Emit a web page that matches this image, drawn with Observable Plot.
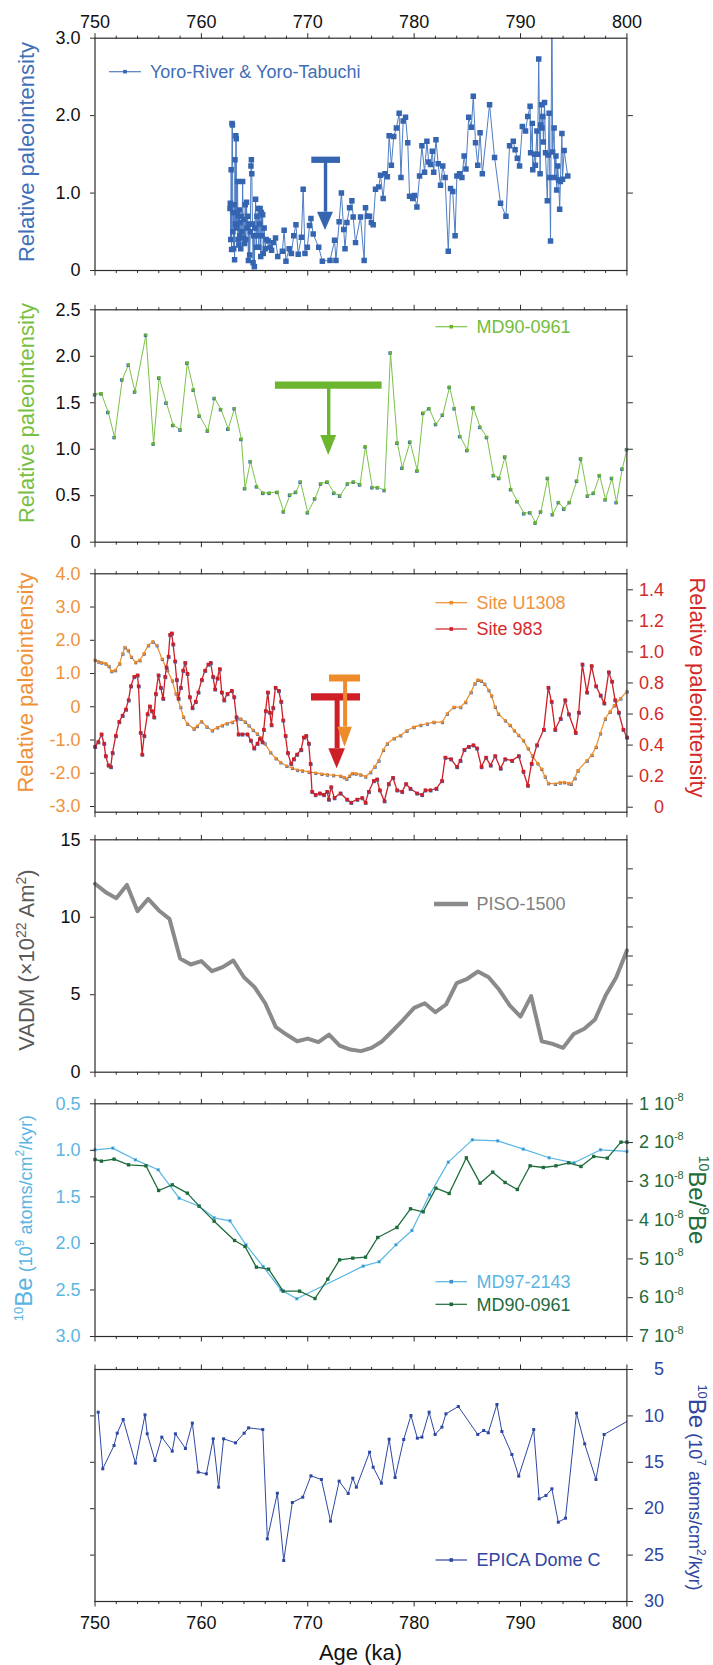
<!DOCTYPE html>
<html>
<head>
<meta charset="utf-8">
<script src="https://cdn.jsdelivr.net/npm/d3@7"></script>
<script src="https://cdn.jsdelivr.net/npm/@observablehq/plot@0.6"></script>
<style>
html, body { margin: 0; padding: 0; background: #fff; }
#chart { position: relative; width: 713px; height: 1665px; font-family: "Liberation Sans", Arial, sans-serif; }
#chart svg { position: absolute; left: 0; }
</style>
</head>
<body>
<div id="chart"></div>
<script>
// ---------------- data ----------------
const ageMajorTicks = [750, 760, 770, 780, 790, 800];
const ageMinorTicks = [752, 754, 756, 758, 762, 764, 766, 768, 772, 774, 776, 778, 782, 784, 786, 788, 792, 794, 796, 798];

// Yoro-River & Yoro-Tabuchi relative paleointensity [age ka, RPI]
const yoroRiverTabuchi = [
  [762.69,0.80],[762.72,0.87],[762.76,0.40],[762.80,1.30],[762.84,0.27],[762.88,1.90],[762.92,1.88],[762.96,0.50],
  [763.00,0.75],[763.04,0.28],[763.08,0.85],[763.12,0.14],[763.16,1.43],[763.20,0.60],[763.24,1.74],[763.28,1.70],
  [763.32,0.55],[763.36,0.75],[763.40,1.15],[763.44,0.40],[763.48,0.70],[763.52,0.33],[763.56,0.78],[763.60,0.45],
  [763.64,0.62],[763.70,0.28],[763.76,0.70],[763.82,0.50],[763.88,1.15],[763.94,0.42],[764.00,0.66],[764.06,0.35],
  [764.12,0.85],[764.18,0.40],[764.24,0.88],[764.30,0.55],[764.36,0.70],[764.42,0.13],[764.48,0.60],[764.54,0.20],
  [764.60,0.50],[764.66,1.35],[764.70,1.43],[764.74,1.25],[764.80,0.60],[764.86,0.10],[764.92,0.45],[764.98,0.05],
  [765.04,0.55],[765.10,0.92],[765.16,0.30],[765.22,0.70],[765.28,0.45],[765.34,0.80],[765.40,0.30],[765.46,0.60],
  [765.52,0.80],[765.58,0.18],[765.64,0.75],[765.70,0.45],[765.76,0.72],[765.82,0.22],[765.90,0.55],[766.00,0.28],
  [766.10,0.40],[766.30,0.38],[766.45,0.30],[766.60,0.26],[766.75,0.36],[766.97,0.42],[767.18,0.18],[767.61,0.25],
  [767.78,0.52],[767.95,0.12],[768.25,0.28],[768.46,0.22],[768.68,0.45],[768.89,0.59],[769.10,0.21],[769.40,0.43],
  [769.57,1.05],[769.74,0.22],[769.96,0.30],[770.17,0.58],[770.30,0.67],[770.51,0.47],[771.03,0.30],[771.37,0.12],
  [772.09,0.13],[772.52,0.39],[772.65,0.13],[772.95,0.63],[773.16,1.00],[773.38,0.53],[773.50,0.28],[773.68,0.62],
  [773.93,0.81],[774.15,0.90],[774.27,0.69],[774.49,0.36],[774.96,0.69],[775.30,0.13],[775.43,0.81],[775.60,0.70],
  [775.81,0.70],[775.98,0.62],[776.15,0.59],[776.37,1.05],[776.67,1.08],[776.84,1.23],[777.09,0.93],[777.26,1.25],
  [777.48,1.21],[777.65,1.74],[777.86,1.36],[778.08,1.73],[778.33,1.84],[778.59,2.03],[778.76,1.20],[778.97,1.93],
  [779.19,1.98],[779.40,1.65],[779.57,0.96],[779.87,0.93],[780.04,0.97],[780.26,0.82],[780.51,1.22],[780.73,1.61],
  [780.98,1.27],[781.20,1.67],[781.37,1.40],[781.54,1.37],[781.71,1.54],[781.84,1.27],[782.05,1.69],[782.26,1.38],
  [782.48,1.10],[782.69,1.35],[782.91,1.20],[783.21,0.25],[783.42,1.06],[783.63,1.02],[783.85,0.45],[784.02,1.22],
  [784.27,1.25],[784.49,1.20],[784.70,1.48],[784.87,1.31],[785.13,1.98],[785.38,1.85],[785.56,2.25],[785.77,1.65],
  [785.98,1.36],[786.20,1.78],[786.41,1.25],[787.09,2.14],[787.56,1.46],[788.12,0.87],[788.63,0.70],[788.97,1.61],
  [789.32,1.67],[789.49,1.56],[789.70,1.45],[789.91,1.35],[790.17,1.86],[790.47,1.80],[790.68,1.99],[790.90,2.12],
  [790.95,1.52],[791.11,1.90],[791.15,1.30],[791.32,1.50],[791.40,1.36],[791.54,1.80],[791.60,1.50],[791.71,2.73],
  [791.84,1.25],[791.90,1.88],[791.97,2.14],[792.02,1.84],[792.09,1.99],[792.15,1.66],[792.26,2.17],[792.35,1.52],
  [792.52,0.90],[792.60,1.49],[792.69,2.03],[792.75,1.20],[792.82,0.38],[792.95,3.60],[793.02,1.53],[793.16,1.84],
  [793.22,1.20],[793.33,1.48],[793.40,1.04],[793.50,1.35],[793.58,1.17],[793.68,0.79],[793.75,1.15],[793.89,1.77],
  [793.95,1.18],[794.10,1.55],[794.44,1.22]
];

// MD90-0961 relative paleointensity [age ka, RPI]
const md90Rpi = [
  [750.0,1.59],[750.6,1.60],[751.24,1.40],[751.84,1.13],[752.56,1.75],[753.16,1.91],[753.76,1.62],[754.79,2.23],
  [755.51,1.06],[756.03,1.77],[756.71,1.50],[757.35,1.26],[758.03,1.21],[758.68,1.93],[759.27,1.64],[759.83,1.36],
  [760.6,1.20],[761.24,1.55],[761.84,1.43],[762.52,1.22],[763.12,1.44],[763.76,1.11],[764.1,0.58],[764.62,0.87],
  [765.21,0.60],[765.81,0.53],[766.41,0.53],[767.14,0.54],[767.74,0.33],[768.33,0.51],[768.89,0.54],[769.32,0.65],
  [770.0,0.32],[770.68,0.47],[771.24,0.63],[771.84,0.65],[772.48,0.53],[773.03,0.50],[773.76,0.63],[774.32,0.65],
  [774.91,0.62],[775.43,1.03],[776.07,0.59],[776.58,0.59],[777.22,0.56],[777.78,2.04],[778.42,1.07],[778.89,0.80],
  [779.62,1.08],[780.3,0.77],[780.85,1.39],[781.41,1.44],[782.05,1.27],[782.69,1.37],[783.33,1.67],[783.8,1.44],
  [784.32,1.14],[785.0,0.99],[785.56,1.45],[786.2,1.24],[786.84,1.13],[787.48,0.72],[787.99,0.69],[788.55,0.92],
  [789.1,0.57],[789.7,0.44],[790.34,0.31],[790.9,0.32],[791.41,0.21],[791.92,0.33],[792.56,0.69],[793.03,0.30],
  [793.59,0.43],[794.1,0.36],[794.62,0.43],[795.3,0.66],[795.68,0.90],[796.32,0.50],[796.88,0.53],[797.44,0.72],
  [797.99,0.46],[798.59,0.69],[799.02,0.43],[799.57,0.79],[800.0,1.00]
];

// Site U1308 relative paleointensity [age ka, RPI]
const siteU1308 = [
  [750.0,1.41],[750.3,1.36],[750.6,1.33],[751.0,1.30],[751.3,1.22],[751.55,1.07],[751.9,1.10],[752.3,1.30],
  [752.6,1.60],[752.8,1.79],[753.1,1.70],[753.4,1.50],[753.8,1.34],[754.2,1.40],[754.6,1.60],[755.0,1.85],
  [755.43,1.96],[755.8,1.85],[756.3,1.44],[756.8,1.10],[757.25,0.79],[757.6,0.40],[758.04,-0.01],[758.3,-0.30],
  [758.67,-0.51],[759.29,-0.66],[759.6,-0.58],[760.0,-0.44],[760.5,-0.60],[761.01,-0.71],[761.5,-0.62],[761.95,-0.56],
  [762.4,-0.50],[762.9,-0.46],[763.3,-0.38],[763.68,-0.36],[764.1,-0.45],[764.45,-0.56],[764.85,-0.70],[765.24,-0.81],
  [765.55,-0.92],[765.96,-1.10],[766.49,-1.37],[767.0,-1.55],[767.43,-1.67],[768.0,-1.78],[768.53,-1.84],[769.0,-1.90],
  [769.47,-1.92],[770.1,-1.96],[770.72,-1.99],[771.3,-2.02],[771.82,-2.04],[772.4,-2.06],[773.07,-2.08],[773.4,-2.12],
  [773.64,-2.17],[773.9,-2.08],[774.17,-2.00],[774.5,-2.01],[774.95,-2.04],[775.42,-2.10],[775.89,-1.97],[776.3,-1.80],
  [776.67,-1.62],[777.1,-1.30],[777.46,-1.11],[778.1,-0.95],[778.71,-0.86],[779.3,-0.72],[779.96,-0.61],[780.6,-0.55],
  [781.22,-0.51],[781.84,-0.46],[782.63,-0.46],[783.1,-0.21],[783.72,-0.01],[784.35,-0.01],[784.82,0.14],[785.34,0.44],
  [785.7,0.70],[785.98,0.81],[786.3,0.78],[786.62,0.69],[787.0,0.50],[787.26,0.34],[787.6,0.00],[787.91,-0.21],
  [788.55,-0.41],[789.0,-0.55],[789.4,-0.71],[789.8,-0.85],[790.26,-1.01],[790.7,-1.25],[791.11,-1.47],[791.6,-1.70],
  [791.97,-1.87],[792.3,-2.10],[792.61,-2.30],[793.25,-2.32],[793.7,-2.28],[794.1,-2.27],[794.5,-2.30],[794.74,-2.32],
  [795.1,-2.15],[795.38,-1.92],[796.24,-1.62],[796.7,-1.45],[797.09,-1.21],[797.5,-0.80],[797.95,-0.36],[798.4,-0.15],
  [798.8,0.04],[799.4,0.25],[800.0,0.46]
];

// Site 983 relative paleointensity (right-hand scale) [age ka, RPI]
const site983 = [
  [750.0,0.39],[750.3,0.42],[750.6,0.47],[750.85,0.41],[751.0,0.33],[751.26,0.27],[751.48,0.26],[751.64,0.35],
  [751.95,0.46],[752.27,0.55],[752.58,0.59],[752.9,0.63],[753.15,0.69],[753.37,0.78],[753.68,0.84],[753.99,0.85],
  [754.09,0.78],[754.28,0.48],[754.43,0.34],[754.62,0.46],[754.93,0.60],[755.15,0.65],[755.33,0.62],[755.55,0.58],
  [755.71,0.73],[755.96,0.85],[756.18,0.77],[756.4,0.70],[756.59,0.84],[756.71,0.90],[756.9,0.97],[757.05,1.11],
  [757.21,1.12],[757.34,1.05],[757.52,0.94],[757.68,0.82],[757.84,0.70],[758.06,0.77],[758.28,0.88],[758.47,0.93],
  [758.68,0.86],[758.9,0.71],[759.15,0.64],[759.46,0.68],[759.71,0.74],[760.03,0.82],[760.34,0.88],[760.65,0.92],
  [760.87,0.93],[761.09,0.84],[761.28,0.76],[761.5,0.83],[761.72,0.89],[761.91,0.74],[762.13,0.69],[762.44,0.73],
  [762.85,0.75],[763.07,0.71],[763.29,0.58],[763.48,0.47],[763.85,0.47],[764.32,0.47],[764.64,0.43],[764.95,0.38],
  [765.26,0.41],[765.48,0.44],[765.73,0.42],[765.86,0.50],[766.04,0.62],[766.24,0.74],[766.43,0.61],[766.58,0.53],
  [766.74,0.64],[766.96,0.77],[767.27,0.75],[767.49,0.68],[767.68,0.56],[767.9,0.46],[768.12,0.35],[768.43,0.28],
  [768.68,0.31],[768.99,0.34],[769.37,0.37],[769.62,0.45],[769.84,0.46],[770.09,0.41],[770.25,0.28],[770.4,0.10],
  [770.72,0.08],[771.13,0.09],[771.5,0.08],[771.82,0.10],[771.97,0.05],[772.19,0.13],[772.5,0.06],[773.07,0.09],
  [773.69,0.05],[774.07,0.03],[774.64,0.05],[775.11,0.06],[775.42,0.03],[775.73,0.10],[776.2,0.17],[776.51,0.18],
  [776.76,0.11],[777.2,0.04],[777.6,0.15],[778.01,0.19],[778.39,0.11],[778.86,0.10],[779.23,0.15],[779.64,0.12],
  [780.26,0.09],[780.73,0.08],[781.05,0.11],[781.52,0.11],[782.08,0.12],[782.61,0.17],[782.92,0.32],[783.46,0.31],
  [784.02,0.26],[784.34,0.30],[784.71,0.37],[785.13,0.39],[785.56,0.40],[785.9,0.38],[786.32,0.26],[786.75,0.32],
  [787.18,0.27],[787.61,0.33],[788.12,0.25],[788.55,0.31],[789.19,0.30],[789.83,0.33],[790.26,0.23],[790.68,0.14],
  [791.03,0.28],[791.54,0.40],[792.18,0.50],[792.61,0.77],[792.91,0.68],[793.25,0.50],[793.76,0.57],[794.19,0.69],
  [794.53,0.60],[795.17,0.48],[795.47,0.61],[795.81,0.92],[796.24,0.74],[796.67,0.91],[797.09,0.78],[797.52,0.72],
  [797.86,0.67],[798.29,0.87],[798.59,0.81],[798.89,0.69],[799.23,0.61],[799.66,0.50],[800.0,0.45]
];

// PISO-1500 virtual axial dipole moment (x10^22 Am^2), one value per ka
const pisoAge = [750,751,752,753,754,755,756,757,758,759,760,761,762,763,764,765,766,767,768,769,770,771,772,773,774,775,
  776,777,778,779,780,781,782,783,784,785,786,787,788,789,790,791,792,793,794,795,796,797,798,799,800];
const pisoVadm = [12.16,11.62,11.23,12.09,10.39,11.19,10.44,9.90,7.34,6.95,7.17,6.52,6.78,7.21,6.13,5.49,4.45,2.91,2.43,2.00,
  2.17,1.94,2.43,1.72,1.46,1.36,1.57,2.00,2.69,3.40,4.15,4.45,3.87,4.37,5.75,6.03,6.50,6.13,5.32,4.30,3.59,4.91,2.00,1.83,
  1.57,2.47,2.80,3.40,4.95,6.13,7.86];
const vadmTicks = [0, 5, 10, 15];
const vadmRightTicks = [1.875, 3.75, 5.625, 7.5, 9.375, 11.25, 13.125];

// MD97-2143 10Be flux (10^9 atoms/cm2/kyr) [age ka, flux]
const md97Be = [
  [750,0.994],[751.67,0.976],[753.8,1.102],[755.94,1.209],[757.91,1.514],[759.79,1.600],[761.2,1.725],[762.69,1.757],
  [764.19,2.015],[765.81,2.248],[767.48,2.499],[768.97,2.595],[775.21,2.244],[776.71,2.197],[778.29,2.015],[779.79,1.861],
  [781.45,1.478],[783.21,1.127],[785.47,0.887],[787.86,0.898],[790.26,0.987],[792.69,1.080],[795.04,1.134],[797.52,0.994],
  [800,1.012]
];

// MD90-0961 10Be/9Be (x10^-8) [age ka, ratio]
const md90BeRatio = [
  [750,2.436],[750.6,2.478],[751.79,2.427],[753.16,2.573],[754.79,2.599],[755.98,3.235],[757.26,3.089],[758.68,3.304],
  [759.79,3.639],[761.2,4.026],[763.12,4.524],[764.1,4.679],[765.17,5.212],[766.32,5.264],[767.69,5.831],[769.23,5.831],
  [770.68,6.020],[771.88,5.521],[772.99,5.023],[774.23,4.980],[775.43,4.954],[776.58,4.447],[778.38,4.189],[779.66,3.708],
  [780.85,3.785],[782.05,3.175],[783.29,3.312],[784.91,2.393],[786.2,3.046],[787.39,2.762],[788.55,3.029],[789.7,3.209],
  [790.9,2.599],[792.14,2.642],[793.33,2.599],[794.53,2.522],[795.68,2.616],[796.88,2.358],[798.16,2.401],[799.44,1.989],
  [800,1.989]
];
const beFluxTicks = [0.5, 1.0, 1.5, 2.0, 2.5, 3.0];
const beRatioTicks = [1, 2, 3, 4, 5, 6, 7];

// EPICA Dome C 10Be flux (10^7 atoms/cm2/kyr) [age ka, flux]
const epicaBe = [
  [750.3,9.60],[750.73,15.70],[751.79,13.19],[752.09,11.86],[752.65,10.39],[753.8,15.09],[754.7,9.89],[754.91,11.93],
  [755.64,14.81],[756.28,12.29],[757.26,13.80],[757.56,11.93],[758.5,13.51],[759.15,10.78],[759.7,16.06],[760.47,16.24],
  [761.11,12.47],[761.62,17.68],[762.09,12.47],[763.21,12.90],[764.02,11.86],[764.44,11.29],[765.77,11.47],[766.2,23.25],
  [767.14,18.33],[767.74,25.58],[768.55,19.33],[769.53,18.76],[770.3,16.46],[771.28,16.85],[772.14,21.34],[772.95,17.03],
  [773.8,18.36],[774.23,16.71],[774.57,17.68],[775.81,13.91],[776.15,15.53],[776.92,17.25],[777.65,12.51],[778.21,16.64],
  [779.02,12.54],[779.7,9.96],[780.3,12.40],[780.73,12.29],[781.41,9.60],[781.97,12.00],[782.61,11.21],[782.99,9.78],
  [784.15,8.99],[785.98,12.00],[786.54,11.57],[786.97,11.82],[787.78,8.77],[788.25,11.68],[789.19,14.16],[789.83,16.49],
  [791.24,11.47],[791.75,18.94],[792.39,18.58],[792.95,17.86],[793.55,21.45],[794.23,21.02],[795.26,9.71],[796.03,13.01],
  [797.09,16.85],[797.86,12.00],[800.0,10.60]
];
const epicaTicks = [5, 10, 15, 20, 25, 30];

// ---------------- styling ----------------
const FONT = '"Liberation Sans", Arial, Helvetica, sans-serif';
const W = 713, ML = 94.5, MR = 86.6;
const AXIS = "#2b2b2b";
const BLUE = "#3565b0", GREEN = "#6cb62f", ORANGE = "#ee8c2b", RED = "#cf1f26";
const GREY = "#8a8a8a", LIGHTBLUE = "#58b6e3", DARKGREEN = "#1e6b3c", NAVY = "#2d48a3";
const fmt1 = d => (Math.abs(d) < 1e-9 ? "0" : d.toFixed(1));

const chart = document.getElementById("chart");

function panelPlot({frameTop, frameBottom, svgTop, svgBottom, y, marks}) {
  const svg = Plot.plot({
    width: W,
    height: svgBottom - svgTop,
    marginLeft: ML,
    marginRight: MR,
    marginTop: frameTop - svgTop,
    marginBottom: svgBottom - frameBottom,
    style: {fontFamily: FONT, fontSize: "18px", color: "#111", background: "transparent"},
    x: {domain: [750, 800], axis: null, label: null},
    y: {...y, axis: null, label: null},
    marks
  });
  svg.style.top = svgTop + "px";
  chart.appendChild(svg);
  return d3.select(svg);
}

// age ticks along the top or bottom edge of a panel
function ageTicks(anchor, labeled) {
  return [
    Plot.axisX(ageMinorTicks, {anchor, tickSize: 3, fill: "none", stroke: AXIS, label: null}),
    Plot.axisX(ageMajorTicks, {anchor, tickSize: 5.5, tickPadding: anchor === "top" ? 5 : 9,
      fill: labeled ? "#111" : "none", stroke: AXIS, label: null, fontSize: 18})
  ];
}

// "T" bar with a downward arrow marking the transition
function tArrow(a, color) {
  const head = [
    {x: a.at - a.half, y1: a.headTop, y2: a.headTop},
    {x: a.at, y1: a.headTop, y2: a.tip},
    {x: a.at + a.half, y1: a.headTop, y2: a.headTop}
  ];
  return [
    Plot.ruleX([a], {x: "at", y1: "bar", y2: "headTop", stroke: color, strokeWidth: a.stemWidth}),
    Plot.ruleY([a], {y: "bar", x1: "from", x2: "to", stroke: color, strokeWidth: a.barWidth}),
    Plot.areaY(head, {x: "x", y1: "y1", y2: "y2", fill: color})
  ];
}

function legendEntry(g, {x0 = 435.5, x1 = 467, tx = 476.4, y, color, text, textColor = color,
                         lineWidth = 1.2, marker = 3.6, markerFill = color}) {
  g.append("line").attr("x1", x0).attr("x2", x1).attr("y1", y).attr("y2", y)
    .attr("stroke", color).attr("stroke-width", lineWidth);
  if (marker) {
    g.append("rect").attr("x", (x0 + x1) / 2 - marker / 2).attr("y", y - marker / 2)
      .attr("width", marker).attr("height", marker).attr("fill", markerFill);
  }
  g.append("text").attr("x", tx).attr("y", y).attr("dy", "0.36em").attr("text-anchor", "start")
    .attr("fill", textColor).attr("font-size", 18).attr("font-family", FONT).text(text);
}

// rotated axis title with optional superscript pieces
function axisTitle(g, {x, y, rotate, color, parts, base = 22}) {
  const t = g.append("text")
    .attr("transform", `translate(${x},${y}) rotate(${rotate})`)
    .attr("y", 0.35 * base)
    .attr("text-anchor", "middle")
    .attr("fill", color)
    .attr("font-family", FONT);
  let shift = 0;
  for (const p of parts) {
    const s = t.append("tspan").attr("font-size", p.size || base).text(p.t);
    const want = p.sup ? -(p.rise || 8) : 0;
    if (want !== shift) { s.attr("dy", want - shift); shift = want; }
  }
}

// ---------------- panel 1: Yoro-River & Yoro-Tabuchi ----------------
{
  const data = yoroRiverTabuchi.map(([age, v]) => ({age, v}));
  const svgTop = 0;
  const g = panelPlot({
    frameTop: 37.7, frameBottom: 270, svgTop, svgBottom: 290,
    y: {domain: [0, 3]},
    marks: [
      Plot.line(data, {x: "age", y: "v", stroke: "#4e7dc4", strokeWidth: 1, clip: true}),
      Plot.dot(data, {x: "age", y: "v", symbol: "square", r: 3.1, fill: BLUE, clip: true}),
      ...tArrow({at: 771.67, bar: 1.43, from: 770.38, to: 773.08, headTop: 0.753, tip: 0.517, half: 0.75,
                 barWidth: 6.3, stemWidth: 3.4}, BLUE),
      Plot.axisY([0, 1, 2, 3], {anchor: "left", tickSize: 4.5, tickPadding: 10, tickFormat: fmt1,
                                stroke: AXIS, fill: "#111", label: null}),
      Plot.axisY([1, 2], {anchor: "right", tickSize: 5.5, fill: "none", stroke: AXIS, label: null}),
      ...ageTicks("top", true),
      ...ageTicks("bottom", false),
      Plot.frame({stroke: AXIS, strokeWidth: 1.2})
    ]
  });
  axisTitle(g, {x: 26, y: 152 - svgTop, rotate: -90, color: "#4070b8",
                parts: [{t: "Relative paleointensity"}]});
  legendEntry(g, {x0: 109, x1: 141, tx: 150, y: 71.7 - svgTop, color: "#4e7dc4", markerFill: BLUE,
                  text: "Yoro-River & Yoro-Tabuchi", textColor: "#3f6db7"});
}

// ---------------- panel 2: MD90-0961 RPI ----------------
{
  const data = md90Rpi.map(([age, v]) => ({age, v}));
  const svgTop = 290;
  const g = panelPlot({
    frameTop: 309.3, frameBottom: 541.7, svgTop, svgBottom: 555,
    y: {domain: [0, 2.5]},
    marks: [
      Plot.line(data, {x: "age", y: "v", stroke: "#7cc24a", strokeWidth: 1}),
      Plot.dot(data, {x: "age", y: "v", symbol: "square", r: 1.9, fill: "#3a6db0", dx: -0.5, dy: 0.5}),
      Plot.dot(data, {x: "age", y: "v", symbol: "square", r: 1.6, fill: GREEN}),
      ...tArrow({at: 771.97, bar: 1.689, from: 766.96, to: 776.99, headTop: 1.148, tip: 0.933, half: 0.75,
                 barWidth: 7.3, stemWidth: 3.4}, GREEN),
      Plot.axisY([0, 0.5, 1, 1.5, 2, 2.5], {anchor: "left", tickSize: 4.5, tickPadding: 10, tickFormat: fmt1,
                                            stroke: AXIS, fill: "#111", label: null}),
      Plot.axisY([0.5, 1, 1.5, 2], {anchor: "right", tickSize: 5.5, fill: "none", stroke: AXIS, label: null}),
      ...ageTicks("top", false),
      ...ageTicks("bottom", false),
      Plot.frame({stroke: AXIS, strokeWidth: 1.2})
    ]
  });
  axisTitle(g, {x: 26, y: 413 - svgTop, rotate: -90, color: "#78c043",
                parts: [{t: "Relative paleointensity"}]});
  legendEntry(g, {y: 326.7 - svgTop, color: "#7cc24a", markerFill: GREEN, text: "MD90-0961", textColor: "#72bd3c"});
}

// ---------------- panel 3: Site U1308 and Site 983 ----------------
{
  // Site 983 uses the right-hand scale; map it onto the left-hand one
  const rightToLeft = r => -3.0206 + 4.6711 * r;
  const leftToRight = v => (v + 3.0206) / 4.6711;
  const u1308 = siteU1308.map(([age, v]) => ({age, v}));
  const s983 = site983.map(([age, r]) => ({age, v: rightToLeft(r)}));
  const rightTicks = [0, 0.2, 0.4, 0.6, 0.8, 1.0, 1.2, 1.4];
  const svgTop = 555;
  const g = panelPlot({
    frameTop: 573.3, frameBottom: 811.7, svgTop, svgBottom: 825,
    y: {domain: [-3.171, 4]},
    marks: [
      Plot.line(u1308, {x: "age", y: "v", stroke: ORANGE, strokeWidth: 1.2}),
      Plot.dot(u1308, {x: "age", y: "v", symbol: "square", r: 1.7, fill: "#3b6bb5", dx: 0.4, dy: 0.6}),
      Plot.dot(u1308, {x: "age", y: "v", symbol: "square", r: 1.6, fill: ORANGE}),
      Plot.line(s983, {x: "age", y: "v", stroke: RED, strokeWidth: 1.3}),
      Plot.dot(s983, {x: "age", y: "v", symbol: "square", r: 2.0, fill: "#3b6bb5", dx: 0.4, dy: 0.6}),
      Plot.dot(s983, {x: "age", y: "v", symbol: "square", r: 1.9, fill: RED}),
      ...tArrow({at: 772.76, bar: 0.30, from: 770.35, to: 774.96, headTop: -1.264, tip: -1.866, half: 0.78,
                 barWidth: 7.3, stemWidth: 5}, RED),
      ...tArrow({at: 773.51, bar: 0.865, from: 772.04, to: 774.96, headTop: -0.614, tip: -1.217, half: 0.68,
                 barWidth: 7, stemWidth: 4}, ORANGE),
      Plot.axisY([-3, -2, -1, 0, 1, 2, 3, 4], {anchor: "left", tickSize: 4.5, tickPadding: 10, tickFormat: fmt1,
                                                stroke: AXIS, fill: "#f0923a", label: null}),
      Plot.axisY(rightTicks.map(rightToLeft), {anchor: "right", tickSize: 5.5, tickPadding: 31.7, textAnchor: "end",
        tickFormat: v => fmt1(Math.round(leftToRight(v) * 10) / 10), stroke: AXIS, fill: "#d42a2a", label: null}),
      ...ageTicks("top", false),
      ...ageTicks("bottom", false),
      Plot.frame({stroke: AXIS, strokeWidth: 1.2})
    ]
  });
  axisTitle(g, {x: 25, y: 682.5 - svgTop, rotate: -90, color: "#f0923a",
                parts: [{t: "Relative paleointensity"}]});
  axisTitle(g, {x: 697.7, y: 687.5 - svgTop, rotate: 90, color: "#d42a2a",
                parts: [{t: "Relative paleointensity"}]});
  legendEntry(g, {y: 602.7 - svgTop, color: ORANGE, text: "Site U1308", textColor: "#f0923a"});
  legendEntry(g, {y: 629 - svgTop, color: RED, text: "Site 983", textColor: "#d42a2a"});
}

// ---------------- panel 4: PISO-1500 ----------------
{
  const data = pisoAge.map((age, i) => ({age, v: pisoVadm[i]}));
  const svgTop = 825;
  const g = panelPlot({
    frameTop: 839.3, frameBottom: 1071.7, svgTop, svgBottom: 1085,
    y: {domain: [0, 15]},
    marks: [
      Plot.line(data, {x: "age", y: "v", stroke: GREY, strokeWidth: 4, strokeLinejoin: "round"}),
      Plot.axisY(vadmTicks, {anchor: "left", tickSize: 4.5, tickPadding: 10, stroke: AXIS, fill: "#111", label: null}),
      Plot.axisY(vadmRightTicks, {anchor: "right", tickSize: 5.5, fill: "none", stroke: AXIS, label: null}),
      ...ageTicks("top", false),
      ...ageTicks("bottom", false),
      Plot.frame({stroke: AXIS, strokeWidth: 1.2})
    ]
  });
  axisTitle(g, {x: 26, y: 960 - svgTop, rotate: -90, color: "#5a5a5a",
                parts: [{t: "VADM (×10"}, {t: "22", sup: true, size: 14}, {t: " Am"}, {t: "2", sup: true, size: 14}, {t: ")"}]});
  legendEntry(g, {x0: 434, x1: 468, y: 904 - svgTop, color: GREY, lineWidth: 4.5, marker: 0,
                  text: "PISO-1500", textColor: "#808080"});
}

// ---------------- panel 5: 10Be records ----------------
{
  // 10Be/9Be (x10^-8) mapped onto the 10Be flux scale
  const ratioToFlux = r => 0.5 + (r - 1) * 2.5 / 6;
  const md97 = md97Be.map(([age, v]) => ({age, v}));
  const md90 = md90BeRatio.map(([age, r]) => ({age, v: ratioToFlux(r)}));
  const svgTop = 1085;
  const g = panelPlot({
    frameTop: 1103.3, frameBottom: 1336, svgTop, svgBottom: 1350,
    y: {domain: [0.5, 3.0], reverse: true},
    marks: [
      Plot.line(md97, {x: "age", y: "v", stroke: LIGHTBLUE, strokeWidth: 1.2}),
      Plot.dot(md97, {x: "age", y: "v", symbol: "square", r: 1.8, fill: LIGHTBLUE}),
      Plot.dot(md97, {x: "age", y: "v", symbol: "square", r: 0.9, fill: "#2f7fc4"}),
      Plot.line(md90, {x: "age", y: "v", stroke: DARKGREEN, strokeWidth: 1.3}),
      Plot.dot(md90, {x: "age", y: "v", symbol: "square", r: 1.9, fill: DARKGREEN}),
      Plot.axisY(beFluxTicks, {anchor: "left", tickSize: 4.5, tickPadding: 10, tickFormat: fmt1,
                               stroke: AXIS, fill: "#5bb5e2", label: null}),
      Plot.axisY(beRatioTicks.map(ratioToFlux), {anchor: "right", tickSize: 5.5, fill: "none", stroke: AXIS, label: null}),
      Plot.text(beRatioTicks, {y: ratioToFlux, text: d => `${d} 10`, frameAnchor: "right", dx: 12.2,
                               textAnchor: "start", fill: DARKGREEN, fontSize: 18}),
      Plot.text(beRatioTicks, {y: ratioToFlux, text: () => "-8", frameAnchor: "right", dx: 47, dy: -6,
                               textAnchor: "start", fill: DARKGREEN, fontSize: 11}),
      ...ageTicks("top", false),
      ...ageTicks("bottom", false),
      Plot.frame({stroke: AXIS, strokeWidth: 1.2})
    ]
  });
  axisTitle(g, {x: 26, y: 1218 - svgTop, rotate: -90, color: "#5bb5e2", base: 18,
                parts: [{t: "10", sup: true, size: 13, rise: 9}, {t: "Be", size: 24}, {t: " (10"},
                        {t: "9", sup: true, size: 12}, {t: " atoms/cm"}, {t: "2", sup: true, size: 12}, {t: "/kyr)"}]});
  axisTitle(g, {x: 697.7, y: 1200 - svgTop, rotate: 90, color: DARKGREEN, base: 24,
                parts: [{t: "10", sup: true, size: 14, rise: 10}, {t: "Be/"}, {t: "9", sup: true, size: 14, rise: 10}, {t: "Be"}]});
  legendEntry(g, {y: 1281.7 - svgTop, color: LIGHTBLUE, markerFill: "#3d8fd0", text: "MD97-2143", textColor: "#5bb5e2"});
  legendEntry(g, {y: 1304.3 - svgTop, color: DARKGREEN, text: "MD90-0961"});
}

// ---------------- panel 6: EPICA Dome C ----------------
{
  const data = epicaBe.map(([age, v]) => ({age, v}));
  const svgTop = 1350;
  const g = panelPlot({
    frameTop: 1369, frameBottom: 1601, svgTop, svgBottom: 1665,
    y: {domain: [5, 30], reverse: true},
    marks: [
      Plot.line(data, {x: "age", y: "v", stroke: NAVY, strokeWidth: 1}),
      Plot.dot(data.slice(0, -1), {x: "age", y: "v", symbol: "square", r: 1.7, fill: NAVY}),
      Plot.axisY(epicaTicks, {anchor: "right", tickSize: 5.5, tickPadding: 31.7, textAnchor: "end",
                              stroke: AXIS, fill: "#3046a0", label: null}),
      Plot.axisY([10, 15, 20, 25], {anchor: "left", tickSize: 4.5, fill: "none", stroke: AXIS, label: null}),
      ...ageTicks("top", false),
      ...ageTicks("bottom", true),
      Plot.frame({stroke: AXIS, strokeWidth: 1.2})
    ]
  });
  axisTitle(g, {x: 695.5, y: 1487.5 - svgTop, rotate: 90, color: "#3046a0", base: 18,
                parts: [{t: "10", sup: true, size: 13, rise: 9}, {t: "Be", size: 24}, {t: " (10"},
                        {t: "7", sup: true, size: 12}, {t: " atoms/cm"}, {t: "2", sup: true, size: 12}, {t: "/kyr)"}]});
  legendEntry(g, {y: 1560 - svgTop, color: NAVY, text: "EPICA Dome C", textColor: "#3046a0"});
  g.append("text").attr("x", 360.5).attr("y", 1651.7 - svgTop).attr("dy", "0.36em")
    .attr("text-anchor", "middle").attr("font-size", 22).attr("font-family", FONT).attr("fill", "#111")
    .text("Age (ka)");
}
</script>
</body>
</html>
